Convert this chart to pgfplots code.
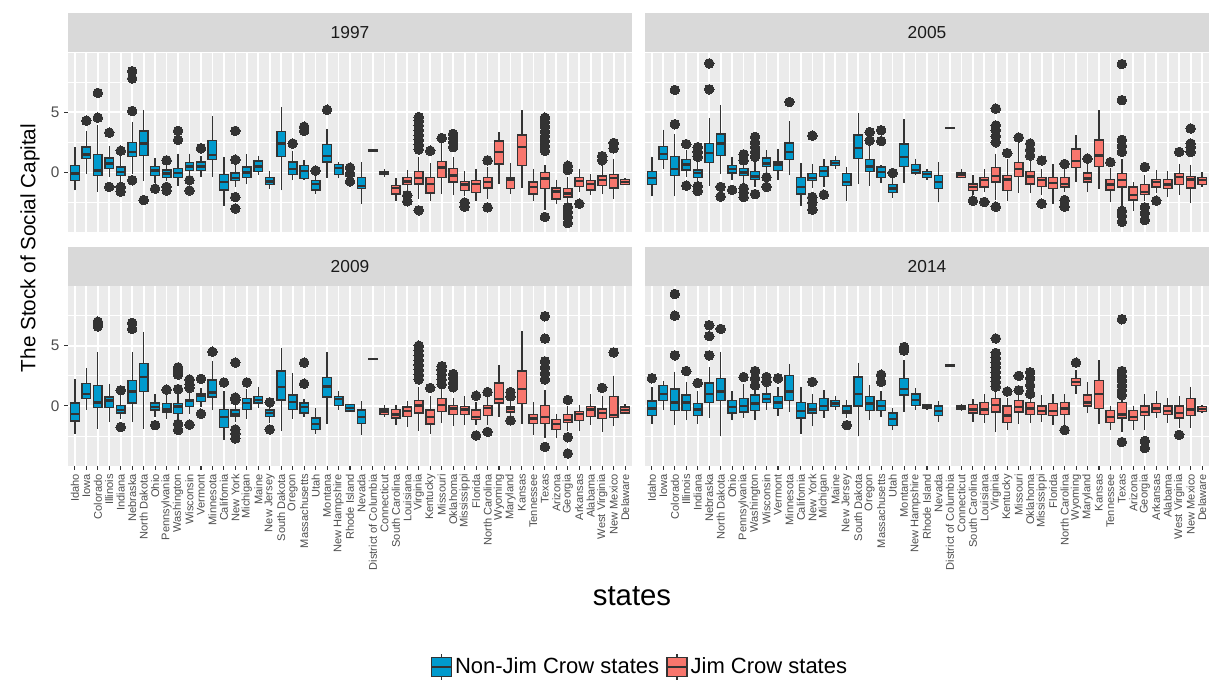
\documentclass[border=0pt]{standalone}
\usepackage{fontspec}
\setmainfont{Liberation Sans}
\usepackage{pgfplots}
\usepackage{pgfplotstable}
\pgfplotsset{compat=1.18}
\usepgfplotslibrary{statistics}

\definecolor{nj}{HTML}{009ACD}
\definecolor{jc}{HTML}{F8766D}
\definecolor{bgc}{HTML}{EBEBEB}
\definecolor{stripc}{HTML}{D9D9D9}
\definecolor{g20}{HTML}{333333}
\definecolor{g30}{HTML}{4D4D4D}
\definecolor{g10}{HTML}{1A1A1A}

% ---------------- box statistics per panel ----------------
\pgfplotstableread{
pos lw q1 med q3 uw
1 -1.5 -0.65 -0.1 0.6 2.1
2 -0.1 1.15 1.5 2.1 3.4
3 -1.6 -0.25 0.15 1.5 3.9
4 -0.4 0.3 0.75 1.2 2.2
5 -0.8 -0.25 0.05 0.45 1.5
6 -0.1 1.3 1.7 2.5 4.2
7 -0.7 1.4 2.4 3.45 5.2
8 -0.9 -0.25 0.15 0.5 1.2
9 -0.7 -0.4 -0.1 0.2 0.8
10 -1.15 -0.45 -0.05 0.35 1.55
11 -0.4 0.15 0.5 0.8 1.55
12 -0.4 0.15 0.5 0.85 1.4
13 -0.4 1.05 1.45 2.65 4.65
14 -2.75 -1.45 -0.8 -0.2 1.3
15 -1.2 -0.65 -0.45 -0.05 0.9
16 -1.0 -0.4 0.0 0.45 1.5
17 -0.2 0.05 0.5 0.95 1.4
18 -1.35 -1.0 -0.75 -0.4 0.15
19 -1.5 1.3 2.4 3.4 5.45
20 -0.65 -0.2 0.3 0.85 1.8
21 -0.65 -0.5 0.1 0.6 1.0
22 -1.8 -1.45 -0.95 -0.7 -0.1
23 -0.45 0.85 1.35 2.3 3.6
24 -0.5 -0.2 0.35 0.65 0.85
25 -0.5 -0.3 -0.15 0.0 0.15
26 -2.6 -1.35 -1.15 -0.4 0.85
27 1.75 1.75 1.8 1.85 1.85
28 -0.4 -0.15 -0.05 0.05 0.25
29 -2.35 -1.8 -1.3 -1.1 -0.45
30 -1.5 -1.0 -0.75 -0.4 0.2
31 -2.2 -0.95 -0.45 0.1 1.3
32 -2.4 -1.7 -0.95 -0.4 0.8
33 -1.8 -0.4 0.4 0.9 2.4
34 -1.9 -0.8 -0.25 0.3 1.3
35 -2.0 -1.5 -1.0 -0.75 0.1
36 -2.4 -1.65 -0.95 -0.65 0.3
37 -2.2 -1.3 -0.8 -0.45 0.45
38 -0.95 0.7 1.7 2.6 3.35
39 -1.8 -1.35 -0.6 -0.4 0.8
40 -1.3 0.6 2.1 3.1 5.15
41 -2.4 -1.8 -1.2 -0.8 0.3
42 -3.15 -1.35 -0.5 0.0 0.6
43 -2.65 -2.2 -1.6 -1.3 -0.6
44 -2.6 -2.05 -1.75 -1.35 -0.4
45 -1.6 -1.15 -0.7 -0.45 0.3
46 -1.85 -1.45 -0.95 -0.65 -0.15
47 -1.8 -1.1 -0.65 -0.3 0.6
48 -2.25 -1.3 -0.45 -0.2 1.15
49 -1.05 -1.0 -0.8 -0.6 -0.45
}\boxA

\pgfplotstableread{
pos lw q1 med q3 uw
1 -2.0 -1.0 -0.45 0.05 1.3
2 0.3 1.05 1.55 2.15 3.55
3 -2.0 -0.25 0.3 1.3 3.2
4 -0.4 0.2 0.65 1.05 1.9
5 -0.9 -0.45 -0.05 0.2 0.9
6 -1.1 0.8 1.6 2.4 4.5
7 -0.1 1.4 2.4 3.2 5.6
8 -0.65 -0.05 0.3 0.6 1.3
9 -0.9 -0.25 0.0 0.3 0.9
10 -1.2 -0.6 -0.35 0.05 1.0
11 0.0 0.5 0.75 1.2 1.85
12 -0.65 0.15 0.65 0.85 1.95
13 -0.25 1.05 1.7 2.45 4.25
14 -2.8 -1.8 -1.2 -0.4 0.8
15 -1.3 -0.7 -0.45 -0.1 0.7
16 -1.2 -0.35 0.1 0.5 1.15
17 0.3 0.58 0.78 1.0 1.35
18 -2.4 -1.1 -0.8 -0.1 0.45
19 -0.95 1.15 2.05 3.1 4.9
20 -1.1 0.05 0.5 1.05 2.2
21 -0.9 -0.45 0.05 0.45 0.6
22 -2.1 -1.65 -1.35 -1.0 -0.5
23 -0.9 0.5 1.3 2.35 4.4
24 -0.25 -0.05 0.2 0.65 1.15
25 -0.65 -0.4 -0.15 0.1 0.3
26 -2.5 -1.35 -0.8 -0.25 0.85
27 3.65 3.65 3.7 3.75 3.75
28 -0.5 -0.4 -0.2 -0.05 0.3
29 -1.85 -1.5 -1.2 -0.95 -0.25
30 -1.65 -1.2 -0.65 -0.45 0.3
31 -2.3 -0.8 -0.3 0.4 1.55
32 -2.4 -1.5 -0.6 -0.25 1.15
33 -1.7 -0.35 0.3 0.8 2.4
34 -1.7 -0.95 -0.35 0.1 1.05
35 -1.9 -1.15 -0.65 -0.4 0.3
36 -2.6 -1.35 -0.9 -0.45 0.7
37 -1.65 -1.2 -0.95 -0.4 0.3
38 -0.8 0.4 0.95 1.95 3.1
39 -1.65 -0.8 -0.5 -0.05 0.7
40 -1.35 0.5 1.4 2.7 5.2
41 -2.45 -1.45 -1.0 -0.6 0.4
42 -2.8 -1.2 -0.65 -0.1 1.1
43 -3.2 -2.3 -1.9 -1.2 -0.8
44 -2.4 -1.85 -1.65 -1.0 -0.25
45 -1.75 -1.2 -0.8 -0.6 0.2
46 -2.05 -1.35 -1.0 -0.6 0.15
47 -1.85 -1.0 -0.4 -0.1 0.7
48 -2.55 -1.3 -0.6 -0.35 0.65
49 -1.2 -1.0 -0.65 -0.4 0.05
}\boxB

\pgfplotstableread{
pos lw q1 med q3 uw
1 -2.3 -1.25 -0.65 0.25 2.25
2 -0.3 0.6 1.0 1.85 3.15
3 -1.9 -0.15 0.3 1.7 4.45
4 -1.35 -0.15 0.45 0.75 1.85
5 -1.1 -0.6 -0.35 0.05 0.8
6 -1.35 0.25 1.2 2.1 4.45
7 -1.9 1.2 2.4 3.5 6.1
8 -0.9 -0.35 -0.1 0.25 1.0
9 -1.05 -0.5 -0.3 0.2 0.9
10 -1.1 -0.65 -0.05 0.2 1.0
11 -0.65 -0.05 0.4 0.5 1.2
12 -0.1 0.35 0.85 1.0 1.5
13 -0.35 0.75 1.1 2.15 3.75
14 -2.8 -1.8 -0.9 -0.3 1.2
15 -1.3 -0.9 -0.7 -0.35 0.3
16 -1.05 -0.3 0.25 0.6 1.4
17 -0.15 0.25 0.5 0.8 1.6
18 -1.4 -0.9 -0.6 -0.35 0.1
19 -2.1 0.5 1.55 2.9 4.85
20 -1.05 -0.3 0.35 0.9 2.7
21 -0.9 -0.6 -0.1 0.25 0.6
22 -2.35 -1.95 -1.5 -1.0 -0.15
23 -1.5 0.75 1.6 2.35 4.45
24 -0.3 0.05 0.6 0.8 1.2
25 -0.5 -0.43 -0.15 0.1 0.15
26 -2.45 -1.45 -0.9 -0.35 0.4
27 3.85 3.85 3.9 3.95 3.95
28 -0.9 -0.7 -0.45 -0.25 0.05
29 -1.6 -1.0 -0.7 -0.3 0.05
30 -1.75 -0.9 -0.4 -0.1 0.4
31 -2.1 -0.6 0.05 0.45 1.55
32 -2.3 -1.5 -0.9 -0.35 0.8
33 -1.4 -0.45 0.1 0.6 1.4
34 -1.7 -0.7 -0.2 0.05 0.7
35 -1.6 -0.7 -0.3 -0.05 0.8
36 -1.6 -1.15 -0.9 -0.35 0.3
37 -1.6 -0.8 -0.15 0.05 0.8
38 -0.9 0.25 0.6 1.9 3.4
39 -0.9 -0.5 -0.2 -0.1 0.5
40 -1.5 0.2 1.4 2.9 6.25
41 -2.45 -1.45 -1.05 -0.7 0.3
42 -2.7 -1.45 -0.9 0.05 1.3
43 -2.7 -1.95 -1.5 -1.15 -0.65
44 -2.1 -1.4 -1.15 -0.7 0.0
45 -2.1 -1.2 -0.65 -0.45 0.1
46 -1.55 -0.85 -0.3 -0.05 0.95
47 -2.15 -1.05 -0.6 -0.25 0.85
48 -1.7 -0.95 -0.75 0.8 2.5
49 -0.7 -0.6 -0.35 -0.1 0.15
}\boxC

\pgfplotstableread{
pos lw q1 med q3 uw
1 -1.5 -0.8 -0.2 0.4 1.6
2 -0.3 0.45 1.0 1.7 2.1
3 -1.6 -0.4 0.3 1.4 2.8
4 -1.2 -0.4 0.3 0.9 2.0
5 -1.5 -0.8 -0.3 0.2 1.2
6 -1.0 0.3 1.0 1.9 3.2
7 -2.5 0.45 1.2 2.3 4.5
8 -1.2 -0.6 -0.1 0.45 1.2
9 -1.0 -0.5 0.0 0.6 1.8
10 -1.2 -0.4 0.2 0.9 1.5
11 -0.3 0.3 0.6 1.0 1.6
12 -0.8 -0.2 0.3 0.8 1.6
13 -0.5 0.45 1.2 2.5 3.5
14 -2.3 -1.0 -0.4 0.3 1.6
15 -1.7 -0.6 -0.3 0.2 1.0
16 -1.0 -0.4 0.0 0.6 1.3
17 -0.3 -0.05 0.2 0.45 0.8
18 -1.0 -0.6 -0.4 0.0 0.5
19 -2.5 0.0 1.0 2.4 3.6
20 -1.2 -0.4 0.2 0.8 1.7
21 -0.9 -0.4 0.0 0.45 1.2
22 -2.0 -1.6 -1.1 -0.6 -0.2
23 -0.5 0.9 1.4 2.3 3.8
24 -0.3 0.05 0.5 1.0 1.5
25 -0.35 -0.2 -0.05 0.1 0.2
26 -1.3 -0.8 -0.4 0.0 0.4
27 3.3 3.3 3.35 3.4 3.4
28 -0.4 -0.25 -0.1 0.05 0.2
29 -1.3 -0.6 -0.3 0.1 0.6
30 -1.4 -0.7 -0.3 0.3 1.0
31 -2.2 -0.5 0.1 0.6 1.3
32 -2.0 -1.4 -0.8 0.0 0.7
33 -1.5 -0.5 -0.1 0.45 1.0
34 -1.4 -0.7 -0.2 0.3 0.8
35 -1.3 -0.7 -0.4 0.0 0.9
36 -1.6 -0.8 -0.4 0.2 1.0
37 -1.6 -0.7 -0.2 0.3 1.0
38 1.0 1.7 2.0 2.3 3.0
39 -0.6 0.0 0.3 0.9 2.0
40 -1.5 -0.2 1.0 2.1 3.8
41 -2.0 -1.4 -0.9 -0.4 0.0
42 -2.2 -1.0 -0.7 0.3 0.7
43 -2.0 -1.2 -0.9 -0.4 0.0
44 -2.0 -0.8 -0.5 0.0 1.0
45 -1.0 -0.55 -0.2 0.2 1.2
46 -1.4 -0.7 -0.4 0.0 0.7
47 -1.8 -1.0 -0.6 0.0 0.8
48 -1.8 -0.8 -0.3 0.6 1.6
49 -0.6 -0.45 -0.25 -0.05 0.1
}\boxD

% ---------------- outliers per panel ----------------
\pgfplotstableread{
x y
2 4.3
3 4.55
3 6.6
4 3.3
4 -1.2
5 1.8
5 -1.2
5 -1.6
6 5.1
6 7.8
6 8.4
6 -0.65
7 -2.3
8 -1.35
9 1.0
9 -1.2
9 -1.5
10 2.7
10 3.45
11 -0.65
11 -1.5
12 2.0
15 1.05
15 3.45
15 -2.05
15 -3.0
20 2.4
21 3.45
21 3.8
22 0.15
23 5.2
25 0.4
25 -0.75
30 -1.9
30 -2.4
31 1.9
31 2.3
31 2.7
31 3.1
31 3.5
31 3.9
31 4.3
31 4.6
31 -3.15
32 1.8
33 2.85
34 2.1
34 2.5
34 2.85
34 3.2
35 -2.5
35 -2.85
37 1.0
37 -2.9
42 1.8
42 2.2
42 2.6
42 3.0
42 3.4
42 3.8
42 4.2
42 4.55
42 -3.7
44 0.55
44 0.2
44 -2.9
44 -3.3
44 -3.7
44 -4.2
45 -2.6
47 1.0
47 1.35
48 2.0
48 2.45
}\outA

\pgfplotstableread{
x y
3 4.0
3 6.85
4 2.35
4 -1.1
5 1.3
5 1.7
5 2.1
5 -1.15
5 -1.55
6 6.9
6 9.05
7 -1.2
7 -2.0
8 -1.45
9 1.0
9 1.5
9 -1.3
9 -1.65
9 -2.05
10 1.3
10 1.7
10 2.1
10 2.5
10 2.95
10 -1.8
11 -0.4
11 -1.2
13 5.85
15 3.05
15 -2.05
15 -2.5
15 -3.1
16 -1.85
20 2.65
20 3.35
21 2.6
21 3.5
22 -0.05
29 -2.35
30 -2.45
31 2.5
31 3.0
31 3.5
31 3.9
31 5.3
31 -2.85
32 1.6
33 2.9
34 1.4
34 1.9
34 2.4
35 1.0
35 -2.6
37 0.7
37 -2.3
37 -2.85
39 1.15
41 0.85
42 1.7
42 2.2
42 2.7
42 6.0
42 9.0
42 -3.2
42 -3.6
42 -4.1
44 0.45
44 -2.9
44 -3.4
44 -3.95
45 -2.35
47 1.7
48 1.7
48 2.1
48 2.4
48 3.65
}\outB

\pgfplotstableread{
x y
3 6.6
3 6.8
3 7.0
5 1.3
5 -1.75
6 6.4
6 6.9
8 -1.6
9 1.35
10 1.4
10 2.6
10 2.9
10 3.2
10 -1.5
10 -2.0
11 1.5
11 1.8
11 2.2
11 -1.55
12 2.25
12 -0.65
13 4.5
14 1.95
15 0.5
15 0.7
15 3.6
15 -1.95
15 -2.3
15 -2.7
16 1.95
18 0.3
18 -1.95
21 1.85
21 3.6
31 2.2
31 2.6
31 3.0
31 3.4
31 3.8
31 4.2
31 4.6
31 5.0
32 1.5
33 1.8
33 2.2
33 2.6
33 3.0
33 3.3
34 1.55
34 1.9
34 2.3
34 2.65
36 0.85
36 -2.45
37 1.15
37 -2.15
39 0.8
39 1.15
39 -1.2
42 2.2
42 2.7
42 3.2
42 3.7
42 5.6
42 7.45
42 -3.4
44 0.5
44 -2.6
44 -3.95
47 1.5
48 4.45
}\outC

\pgfplotstableread{
x y
1 2.3
3 4.2
3 7.5
3 9.3
4 2.9
5 1.9
6 4.2
6 5.8
6 6.7
7 6.4
9 2.4
10 1.7
10 2.3
10 2.9
11 2.0
11 2.4
12 2.3
15 2.0
18 -1.6
21 2.0
21 2.6
23 4.6
23 4.9
31 1.6
31 2.0
31 2.4
31 2.8
31 3.2
31 3.6
31 4.0
31 4.4
31 5.6
32 1.2
33 1.3
33 2.5
34 1.0
34 1.7
34 2.3
34 2.8
37 -2.0
38 3.6
42 0.9
42 1.3
42 1.7
42 2.1
42 2.5
42 2.9
42 7.2
42 -3.0
44 -2.9
44 -3.5
47 -2.4
}\outD

% ---------------- styles ----------------
\pgfplotsset{
  panel/.style={
    scale only axis, width=423pt, height=134.55pt, anchor=north west,
    xmin=0.4, xmax=49.6, ymin=-4.95, ymax=9.95,
    xtick={1,...,49}, ytick={0,5}, minor ytick={-2.5,2.5,7.5},
    grid=both,
    major grid style={white, line width=1.3pt},
    minor grid style={white, line width=0.7pt},
    axis background/.style={fill=bgc},
    axis line style={draw=none},
    tick align=outside, tick pos=left,
    major tick length=3pt, minor tick length=0pt,
    tick style={g20, line width=0.8pt},
    yticklabel style={font=\fontsize{11.5}{13}\selectfont, text=g30},
    xticklabel style={rotate=90, anchor=east, font=\fontsize{8.3}{9}\selectfont, text=g30},
    /pgf/number format/assume math mode=true,
    title style={at={(0.5,1)}, anchor=south, yshift=-6pt, fill=stripc, minimum width=423pt,
      minimum height=29.25pt, inner sep=0pt, font=\fontsize{13}{15}\selectfont, text=g10},
  },
  toprow/.style={xticklabels={}, xtick style={draw=none}},
  rightcol/.style={yticklabels={}, ytick style={draw=none}},
  statenames/.style={xticklabels={Idaho,Iowa,Colorado,Illinois,Indiana,Nebraska,North Dakota,Ohio,Pennsylvania,Washington,Wisconsin,Vermont,Minnesota,California,New York,Michigan,Maine,New Jersey,South Dakota,Oregon,Massachusetts,Utah,Montana,New Hampshire,Rhode Island,Nevada,District of Columbia,Connecticut,South Carolina,Louisiana,Virginia,Kentucky,Missouri,Oklahoma,Mississippi,Florida,North Carolina,Wyoming,Maryland,Kansas,Tennessee,Texas,Arizona,Georgia,Arkansas,Alabama,West Virginia,New Mexico,Delaware}},
  bx/.style={draw=g20, line width=1pt, boxplot/draw direction=y,
    boxplot/box extend=0.75, boxplot/whisker extend=0,
    boxplot/every median/.style={line width=1.8pt, draw=g20}},
  outl/.style={only marks, mark=*, mark size=3.6pt, color=g20,
    mark options={fill=g20, draw=g20, line width=0pt}},
  keyimg/.style={legend image code/.code={
    \draw[g20, line width=1pt] (7.5pt,-10pt) -- (7.5pt,10pt);
    \draw[g20, fill=#1, line width=1pt] (0pt,-7pt) rectangle (15pt,7pt);
    \draw[g20, line width=1.6pt] (0pt,0pt) -- (15pt,0pt);
  }},
}

\newcommand{\drawboxes}[1]{%
  \pgfplotstablegetrowsof{#1}%
  \pgfmathtruncatemacro{\nlast}{\pgfplotsretval-1}%
  \pgfplotsforeachungrouped \rowi in {0,...,\nlast}{%
    \pgfplotstablegetelem{\rowi}{pos}\of{#1}\let\vP\pgfplotsretval
    \pgfplotstablegetelem{\rowi}{lw}\of{#1}\let\vA\pgfplotsretval
    \pgfplotstablegetelem{\rowi}{q1}\of{#1}\let\vB\pgfplotsretval
    \pgfplotstablegetelem{\rowi}{med}\of{#1}\let\vM\pgfplotsretval
    \pgfplotstablegetelem{\rowi}{q3}\of{#1}\let\vD\pgfplotsretval
    \pgfplotstablegetelem{\rowi}{uw}\of{#1}\let\vE\pgfplotsretval
    \ifnum\vP<27 \def\vC{nj}\else\def\vC{jc}\fi
    \edef\tmp{\noexpand\addplot[bx, fill=\vC, boxplot prepared={draw position=\vP, lower whisker=\vA, lower quartile=\vB, median=\vM, upper quartile=\vD, upper whisker=\vE}] coordinates {};}%
    \tmp
  }%
}

\begin{document}
\begin{tikzpicture}
\path[use as bounding box] (0pt,0pt) rectangle (906.75pt,-510pt);

\begin{axis}[panel, toprow, at={(51pt,-39.45pt)}, title={1997}]
\drawboxes{\boxA}
\addplot[outl] table[x=x,y=y] {\outA};
\end{axis}

\begin{axis}[panel, toprow, rightcol, at={(483.75pt,-39.45pt)}, title={2005}]
\drawboxes{\boxB}
\addplot[outl] table[x=x,y=y] {\outB};
\end{axis}

\begin{axis}[panel, statenames, at={(51pt,-214.6pt)}, title={2009}]
\drawboxes{\boxC}
\addplot[outl] table[x=x,y=y] {\outC};
\end{axis}

\begin{axis}[panel, statenames, rightcol, at={(483.75pt,-214.6pt)}, title={2014}]
\drawboxes{\boxD}
\addplot[outl] table[x=x,y=y] {\outD};
\end{axis}

\begin{axis}[at={(480pt,-500.25pt)}, anchor=center, hide axis, scale only axis,
  width=10pt, height=10pt, xmin=0, xmax=1, ymin=0, ymax=1,
  legend style={at={(0.5,0.5)}, anchor=center, draw=none, fill=none,
    legend columns=2, font=\fontsize{16.5}{19}\selectfont,
    /tikz/every even column/.append style={column sep=3pt}},
  legend cell align=left]
\addlegendimage{keyimg=nj}
\addlegendentry{Non-Jim Crow states}
\addlegendimage{keyimg=jc}
\addlegendentry{Jim Crow states}
\end{axis}

\node[rotate=90, font=\fontsize{15.5}{18}\selectfont] at (22.5pt,-186pt) {The Stock of Social Capital};
\node[font=\fontsize{22}{25}\selectfont] at (474pt,-447pt) {states};
\end{tikzpicture}
\end{document}
